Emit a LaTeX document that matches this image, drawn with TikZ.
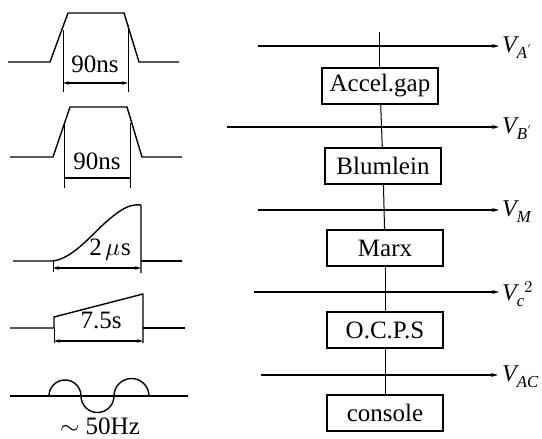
\documentclass[tikz,border=0pt]{standalone}
\usepackage{fontspec}
\setmainfont{Liberation Serif}
\usepackage{unicode-math}
\setmathfont{Latin Modern Math}
\setmathfont[range=it/{latin,Latin}]{Liberation Serif Italic}
\usetikzlibrary{arrows.meta}
\begin{document}
\begin{tikzpicture}[x=1pt,y=-1pt,
  wave/.style={line width=1.4pt,line join=round},
  thin/.style={line width=1pt},
  dim/.style={line width=1.3pt,{Stealth[length=6pt,width=3.5pt]}-{Stealth[length=6pt,width=3.5pt]}},
  bus/.style={line width=1.4pt,-{Stealth[length=7pt,width=4pt]}},
  blk/.style={draw,line width=1.4pt,minimum width=116pt,minimum height=36pt,inner sep=0pt,font=\fontsize{25}{27}\selectfont},
  lbl/.style={font=\fontsize{25}{27}\selectfont,inner sep=0pt},
  vl/.style={anchor=west,inner sep=0pt,font=\fontsize{24}{26}\selectfont}]
\useasboundingbox (0,0) rectangle (542,439);
\clip (0,0) rectangle (542,439);
% ---------- right side blocks ----------
\node[blk] (acc) at (380,86) {Accel.gap};
\node[blk] (blu) at (383,166) {Blumlein};
\node[blk] (mar) at (385,248) {Marx};
\node[blk] (ocp) at (385,330) {O.C.P.S};
\node[blk] (con) at (385,413) {console};
\coordinate (top) at (379,32);
\draw[thin] (top) -- (acc.north -| top);
\draw[thin] (acc) -- (blu);
\draw[thin] (blu) -- (mar);
\draw[thin] (mar) -- (ocp);
\draw[thin] (ocp) -- (con);
% buses
\coordinate (a0) at (258,46);  \coordinate (a1) at (499,46);
\coordinate (b0) at (227,127); \coordinate (b1) at (499,127);
\coordinate (m0) at (258,210); \coordinate (m1) at (499,210);
\coordinate (c0) at (254,292); \coordinate (c1) at (499,292);
\coordinate (d0) at (261,375); \coordinate (d1) at (498,375);
\draw[bus] (a0) -- (a1);
\draw[bus] (b0) -- (b1);
\draw[bus] (m0) -- (m1);
\draw[bus] (c0) -- (c1);
\draw[bus] (d0) -- (d1);
\node[vl] (va) at (502,48) {$V_{A'}$};
\node[vl] (vb) at (502,129) {$V_{B'}$};
\node[vl] (vm) at (502,212) {$V_{M}$};
\node[vl] (vc) at (502,294) {$V_{c}{}^{2}$};
\node[vl] (vac) at (502,377) {$V_{AC}$};
% ---------- left waveforms ----------
% wave 1
\draw[wave] (8,62) -- (50,62) -- (68,13) -- (124,13) -- (139,62) -- (179,62);
\draw[thin] (63,30) -- (63,92);
\draw[thin] (128,25) -- (128,92);
\draw[dim] (63,83) -- (128,83);
\node[lbl] (t1) at (95,64) {90ns};
% wave 2
\draw[wave] (10,157) -- (53,157) -- (70,107) -- (127,107) -- (142,157) -- (182,157);
\draw[thin] (64,123) -- (64,188);
\draw[thin] (130,123) -- (130,188);
\draw[line width=1.3pt] (64,178) -- (130,178);
\node[lbl] (t2) at (97,161) {90ns};
% wave 3
\draw[wave] (13,261) -- (53,261) .. controls (75,258) and (95,230) .. (112,217)
  .. controls (124,207) and (132,204) .. (141,205) -- (141,273);
\draw[wave] (141,261) -- (182,261);
\draw[thin] (53,261) -- (53,272);
\draw[dim] (53,268) -- (141,268);
\node[lbl] (t3) at (110,250) {2\,$\mu$s};
% wave 4
\draw[wave] (10,328) -- (54,328) -- (54,317) -- (143,294) -- (143,343);
\draw[wave] (143,328) -- (185,328);
\draw[thin] (54,328) -- (54,343);
\draw[dim] (54,341) -- (143,341);
\node[lbl] (t4) at (101,320) {7.5s};
% wave 5
\draw[wave] (10,396) -- (188,396);
\draw[wave] (49,396) arc[start angle=180,end angle=360,radius=16]
  arc[start angle=180,end angle=0,radius=16.5]
  arc[start angle=180,end angle=360,radius=17.5];
\node[lbl,anchor=base] (t5) at (100,434) {$\sim$ 50Hz};
\end{tikzpicture}
\end{document}
